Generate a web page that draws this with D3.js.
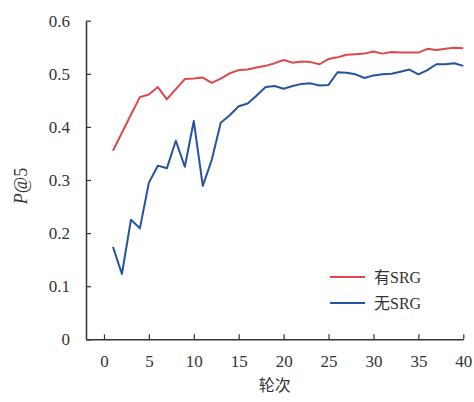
<!DOCTYPE html>
<html>
<head>
<meta charset="utf-8">
<script src="https://cdn.jsdelivr.net/npm/d3@7"></script>
<style>
  body { margin: 0; background: #fff; }
</style>
</head>
<body>
<div id="chart"></div>
<script>
// rounds 1..40
const rounds = d3.range(1, 41);

const withSRG = [
  0.355, 0.389, 0.423, 0.456, 0.461, 0.475, 0.452, 0.471, 0.490, 0.491,
  0.493, 0.483, 0.491, 0.501, 0.507, 0.508, 0.512, 0.515, 0.520, 0.526,
  0.521, 0.523, 0.522, 0.518, 0.528, 0.531, 0.536, 0.537, 0.538, 0.542,
  0.538, 0.541, 0.540, 0.540, 0.540, 0.547, 0.545, 0.547, 0.549, 0.548
];

const withoutSRG = [
  0.174, 0.123, 0.225, 0.209, 0.295, 0.327, 0.322, 0.374, 0.325, 0.411,
  0.289, 0.338, 0.408, 0.422, 0.439, 0.444, 0.459, 0.475, 0.477, 0.472,
  0.477, 0.481, 0.482, 0.478, 0.479, 0.503, 0.502, 0.499, 0.492, 0.497,
  0.499, 0.500, 0.504, 0.508, 0.499, 0.507, 0.518, 0.518, 0.520, 0.515
];

const seriesNames = ["有SRG", "无SRG"];
const xTicks = [0, 5, 10, 15, 20, 25, 30, 35, 40];
const yTicks = [0, 0.1, 0.2, 0.3, 0.4, 0.5, 0.6];

const serif = "'Liberation Serif', 'Noto Sans CJK SC', serif";

const width = 474, height = 402;
const margin = {top: 20.7, right: 10.7, bottom: 62.7, left: 86};

const svg = d3.select("#chart")
  .append("svg")
  .attr("width", width)
  .attr("height", height);

const x = d3.scaleLinear().domain([-2, 40]).range([margin.left, width - margin.right]);
const y = d3.scaleLinear().domain([0, 0.6]).range([height - margin.bottom, margin.top]);

const color = d3.scaleOrdinal().domain(seriesNames).range(["#e0474c", "#2453a0"]);

// axes
const xAxis = svg.append("g")
  .attr("transform", "translate(0," + y(0) + ")")
  .call(d3.axisBottom(x).tickValues(xTicks).tickFormat(d3.format("d"))
    .tickSizeInner(-5).tickSizeOuter(0).tickPadding(16));

const yAxis = svg.append("g")
  .attr("transform", "translate(" + margin.left + ",0)")
  .call(d3.axisLeft(y).tickValues(yTicks).tickFormat(d => d === 0 ? "0" : d3.format(".1f")(d))
    .tickSizeInner(-5).tickSizeOuter(0).tickPadding(16));

[xAxis, yAxis].forEach(g => {
  g.attr("font-family", serif).attr("font-size", 17);
  g.select(".domain").attr("stroke", "#333").attr("stroke-width", 1.5);
  g.selectAll(".tick line").attr("stroke", "#333").attr("stroke-width", 1.2);
  g.selectAll(".tick text").attr("fill", "#333");
});

// axis titles
svg.append("text")
  .attr("x", (x.range()[0] + x.range()[1]) / 2)
  .attr("y", 391)
  .attr("text-anchor", "middle")
  .attr("font-family", serif)
  .attr("font-size", 16)
  .attr("fill", "#333")
  .text("轮次");

const yTitle = svg.append("text")
  .attr("transform", "translate(27," + 186 + ") rotate(-90)")
  .attr("text-anchor", "middle")
  .attr("font-family", serif)
  .attr("font-size", 18)
  .attr("fill", "#333");
yTitle.append("tspan").attr("font-style", "italic").text("P");
yTitle.append("tspan").text("@5");

// lines
const line = d3.line()
  .x((d, i) => x(rounds[i]))
  .y(d => y(d));

[withSRG, withoutSRG].forEach((vals, k) => {
  svg.append("path")
    .datum(vals)
    .attr("d", line)
    .attr("fill", "none")
    .attr("stroke", color(seriesNames[k]))
    .attr("stroke-width", 2)
    .attr("stroke-linejoin", "round");
});

// legend
const legend = svg.append("g").attr("transform", "translate(330,277)");
seriesNames.forEach((name, k) => {
  const row = legend.append("g").attr("transform", "translate(0," + (k * 26) + ")");
  row.append("line")
    .attr("x1", 0).attr("x2", 35)
    .attr("stroke", color(name))
    .attr("stroke-width", 2);
  row.append("text")
    .attr("x", 44)
    .attr("dy", "0.35em")
    .attr("font-family", serif)
    .attr("font-size", 16)
    .attr("fill", "#333")
    .text(name);
});
</script>
</body>
</html>
